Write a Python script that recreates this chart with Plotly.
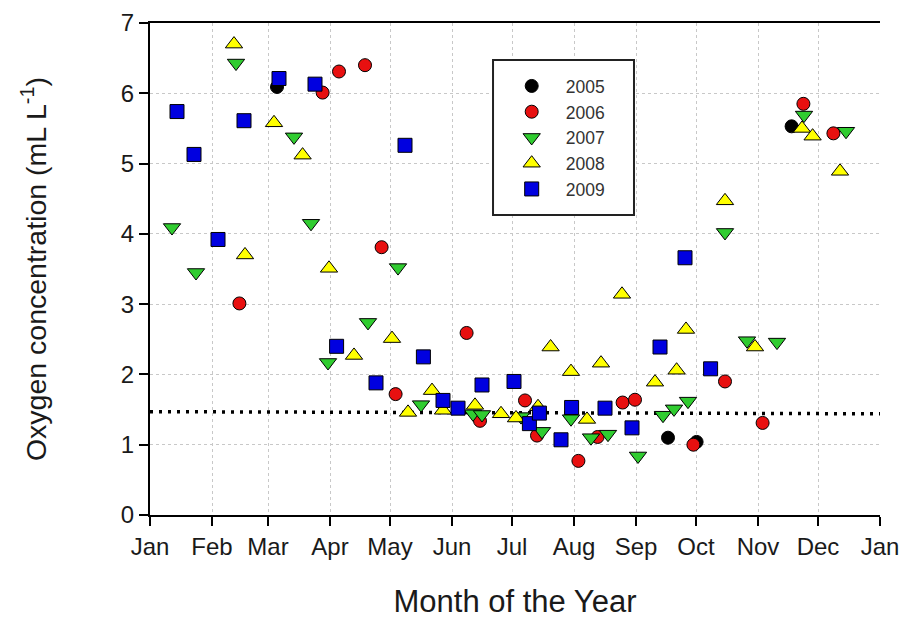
import plotly.graph_objects as go

# Day of year (0 = 1 Jan) and oxygen concentration (mL/L) per sampling year
day_2005 = [63.5, 259.0, 273.3, 320.8]
oxy_2005 = [6.09, 1.10, 1.04, 5.53]

day_2006 = [44.7, 86.3, 94.5, 107.5, 115.8, 122.8, 158.3, 165.0, 187.5, 193.5,
            214.2, 223.8, 236.3, 242.5, 271.7, 287.5, 306.3, 326.7, 341.7]
oxy_2006 = [3.01, 6.01, 6.31, 6.40, 3.81, 1.72, 2.59, 1.34, 1.63, 1.13,
            0.77, 1.11, 1.60, 1.64, 1.00, 1.90, 1.31, 5.85, 5.43]

day_2007 = [11.0, 23.0, 43.0, 72.0, 80.5, 89.0, 109.0, 124.0, 135.5, 161.5,
            166.0, 185.5, 196.0, 210.5, 220.5, 229.0, 244.0, 256.5, 262.0, 269.0,
            287.5, 298.5, 313.5, 327.0, 348.0]
oxy_2007 = [4.09, 3.45, 6.43, 5.38, 4.15, 2.17, 2.74, 3.52, 1.57, 1.44,
            1.43, 1.40, 1.19, 1.37, 1.10, 1.15, 0.84, 1.42, 1.51, 1.62,
            4.02, 2.48, 2.46, 5.69, 5.46]

day_2008 = [42.0, 47.5, 62.0, 76.3, 89.5, 102.0, 121.0, 129.0, 141.0, 146.5,
            162.5, 175.5, 183.0, 194.0, 200.3, 210.5, 218.5, 225.5, 236.0, 252.5,
            263.3, 268.0, 287.5, 302.5, 326.0, 331.3, 345.0]
oxy_2008 = [6.70, 3.70, 5.58, 5.12, 3.51, 2.27, 2.51, 1.46, 1.77, 1.49,
            1.56, 1.44, 1.38, 1.54, 2.39, 2.04, 1.36, 2.16, 3.14, 1.89,
            2.06, 2.64, 4.47, 2.39, 5.50, 5.39, 4.89]

day_2009 = [13.5, 22.0, 34.0, 47.0, 64.5, 82.5, 93.3, 113.0, 127.5, 136.7,
            146.5, 154.0, 166.0, 182.0, 189.7, 194.7, 205.5, 210.8, 227.5, 241.0,
            255.0, 267.5, 280.3]
oxy_2009 = [5.74, 5.13, 3.92, 5.61, 6.21, 6.13, 2.40, 1.88, 5.26, 2.25,
            1.63, 1.52, 1.85, 1.90, 1.30, 1.45, 1.07, 1.53, 1.52, 1.24,
            2.39, 3.66, 2.08]

# Hypoxia reference line
ref_day = [0, 365]
ref_oxy = [1.47, 1.44]

month_starts = [0, 31, 59, 90, 120, 151, 181, 212, 243, 273, 304, 334, 365]
month_labels = ["Jan", "Feb", "Mar", "Apr", "May", "Jun", "Jul",
                "Aug", "Sep", "Oct", "Nov", "Dec", "Jan"]

FONT = "Arial, Liberation Sans, sans-serif"

series = [
    ("2005", day_2005, oxy_2005, "circle", "#000000", 13),
    ("2006", day_2006, oxy_2006, "circle", "#e81010", 13),
    ("2007", day_2007, oxy_2007, "triangle-down", "#30cc30", 15),
    ("2008", day_2008, oxy_2008, "triangle-up", "#ffff00", 15),
    ("2009", day_2009, oxy_2009, "square", "#0000e0", 14),
]

fig = go.Figure()

fig.add_trace(go.Scatter(
    x=ref_day, y=ref_oxy, mode="lines", showlegend=False, hoverinfo="skip",
    line=dict(color="#000000", width=3.5, dash="3px,6px"),
))

for name, xs, ys, sym, col, size in series:
    fig.add_trace(go.Scatter(
        x=xs, y=ys, mode="markers", name=name,
        marker=dict(symbol=sym, color=col, size=size,
                    line=dict(color="#000000", width=1)),
    ))

# legend frame
fig.add_shape(type="rect", xref="paper", yref="paper",
              x0=0.4699, x1=0.663, y0=0.6098, y1=0.9248,
              line=dict(color="#222222", width=2), fillcolor="white",
              layer="above")

fig.update_layout(
    width=905, height=619,
    margin=dict(l=150, r=25, t=23, b=104),
    paper_bgcolor="white", plot_bgcolor="white",
    font=dict(family=FONT, color="#1a1a1a"),
    showlegend=True,
    legend=dict(x=0.4763, y=0.9084, xanchor="left", yanchor="top",
                bgcolor="rgba(0,0,0,0)", borderwidth=0,
                font=dict(size=17.5, family=FONT, color="#333333"),
                itemwidth=58, tracegroupgap=0),
    xaxis=dict(
        range=[0, 365], tickmode="array", tickvals=month_starts,
        ticktext=month_labels, ticks="outside", ticklen=9, tickwidth=1.5,
        tickcolor="#000000", showline=True, linecolor="#000000", linewidth=2,
        mirror=True, showgrid=True, gridcolor="#c8c8c8", gridwidth=1,
        griddash="dot", zeroline=False, automargin=False,
        tickfont=dict(size=24, family=FONT, color="#1a1a1a"),
        title=dict(text="Month of the Year", standoff=33,
                   font=dict(size=31, family=FONT, color="#1a1a1a")),
    ),
    yaxis=dict(
        range=[0, 7], tick0=0, dtick=1, ticks="outside", ticklen=9,
        tickwidth=1.5, tickcolor="#000000", showline=True,
        linecolor="#000000", linewidth=2, showgrid=True,
        gridcolor="#c8c8c8", gridwidth=1, griddash="dot", zeroline=False,
        automargin=False,
        tickfont=dict(size=24, family=FONT, color="#1a1a1a"),
        title=dict(text="Oxygen concentration (mL L<sup>-1</sup>)", standoff=66,
                   font=dict(size=28.5, family=FONT, color="#1a1a1a")),
    ),
)

fig.write_html("out.html")
